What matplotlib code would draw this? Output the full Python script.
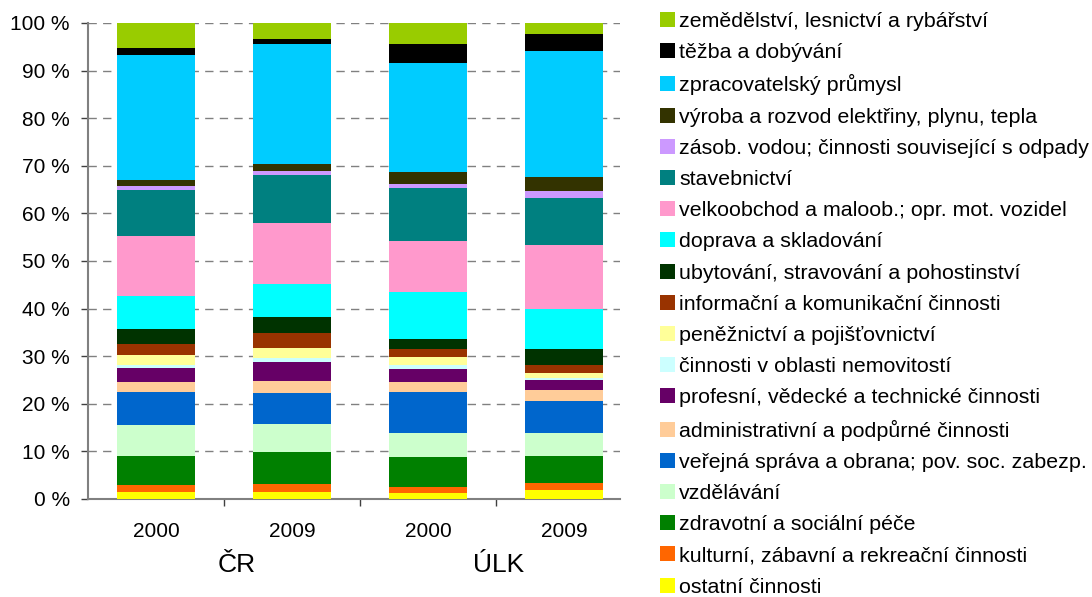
import matplotlib
matplotlib.use("Agg")
from matplotlib import pyplot as plt
from matplotlib.patches import Patch
import numpy as np

plt.rcParams['font.family'] = ['Liberation Sans', 'DejaVu Sans']

# sectors, bottom of the stack first
sectors = [
    "ostatní činnosti",
    "kulturní, zábavní a rekreační činnosti",
    "zdravotní a sociální péče",
    "vzdělávání",
    "veřejná správa a obrana; pov. soc. zabezp.",
    "administrativní a podpůrné činnosti",
    "profesní, vědecké a technické činnosti",
    "činnosti v oblasti nemovitostí",
    "peněžnictví a pojišťovnictví",
    "informační a komunikační činnosti",
    "ubytování, stravování a pohostinství",
    "doprava a skladování",
    "velkoobchod a maloob.; opr. mot. vozidel",
    "stavebnictví",
    "zásob. vodou; činnosti související s odpady",
    "výroba a rozvod elektřiny, plynu, tepla",
    "zpracovatelský průmysl",
    "těžba a dobývání",
    "zemědělství, lesnictví a rybářství",
]
colors = ["#FFFF00", "#FF6600", "#008000", "#CCFFCC", "#0066CC", "#FFCC99",
          "#660066", "#CCFFFF", "#FFFF99", "#993300", "#003300", "#00FFFF",
          "#FF99CC", "#008080", "#CC99FF", "#333300", "#00CCFF", "#000000",
          "#99CC00"]

years = ["2000", "2009", "2000", "2009"]
regions = ["ČR", "ÚLK"]

# shares in %, same order as sectors
cr_2000 = [1.5, 1.5, 6.1, 6.4, 7.0, 2.0, 3.1, 0.5, 2.2, 2.3, 3.1, 6.9, 12.7, 9.7, 0.8, 1.3, 26.2, 1.5, 5.2]
cr_2009 = [1.5, 1.7, 6.7, 5.9, 6.5, 2.5, 4.0, 0.9, 2.1, 3.0, 3.5, 6.8, 12.8, 10.1, 1.0, 1.3, 25.3, 1.0, 3.4]
ulk_2000 = [1.3, 1.3, 6.3, 5.0, 8.6, 2.1, 2.8, 0.8, 1.6, 1.8, 2.1, 9.7, 10.8, 11.1, 0.9, 2.6, 22.8, 4.0, 4.4]
ulk_2009 = [1.9, 1.4, 5.7, 4.9, 6.6, 2.3, 2.1, 0.6, 1.0, 1.6, 3.5, 8.3, 13.5, 9.9, 1.5, 2.8, 26.6, 3.4, 2.4]

data = np.array([cr_2000, cr_2009, ulk_2000, ulk_2009]).T
data = data / data.sum(axis=0) * 100

fig = plt.figure(figsize=(10.92, 5.97), dpi=100)
ax = fig.add_axes([88 / 1092, 98 / 597, (620 - 88) / 1092, 476 / 597])

x = np.arange(len(years))
bottom = np.zeros(len(years))
for i in range(len(sectors)):
    ax.bar(x, data[i], 0.57, bottom=bottom, color=colors[i], linewidth=0, zorder=3)
    bottom += data[i]

ax.set_ylim(0, 100)
ax.set_xlim(-0.5, 3 + 0.285 + 17 / 136)
ax.set_yticks(range(0, 101, 10))
ax.set_yticklabels([f"{v} %" for v in range(0, 101, 10)], fontsize=15)
ax.yaxis.grid(True, color="#808080", linestyle=(0, (6, 4.5)), linewidth=1, zorder=0)
ax.set_axisbelow(True)

ax.set_xticks([0.5, 1.5, 2.5])
ax.set_xticklabels([])
ax.tick_params(axis="both", direction="out", length=5, color="#404040", width=1)
ax.tick_params(axis="y", pad=8)
for s in ["top", "right"]:
    ax.spines[s].set_visible(False)
for s in ["left", "bottom"]:
    ax.spines[s].set_color("#808080")
    ax.spines[s].set_linewidth(1.5)

for xi, yr in zip(x, years):
    ax.text(xi, -6.8, yr, ha="center", va="center", fontsize=15,
            transform=ax.transData, clip_on=False)
ax.text(0.59, -13.8, regions[0], ha="center", va="center", fontsize=19, clip_on=False)
ax.text(2.52, -13.8, regions[1], ha="center", va="center", fontsize=19, clip_on=False)

handles = [Patch(facecolor=c, edgecolor="none") for c in colors[::-1]]
fig.legend(handles, sectors[::-1], loc="upper left", bbox_to_anchor=(660 / 1092, 1 - 12 / 597),
           frameon=False, fontsize=15.4, handlelength=0.7, handleheight=0.7,
           handletextpad=0.19, labelspacing=0.57, borderaxespad=0, borderpad=0)

fig.savefig("out.png", dpi=100)
